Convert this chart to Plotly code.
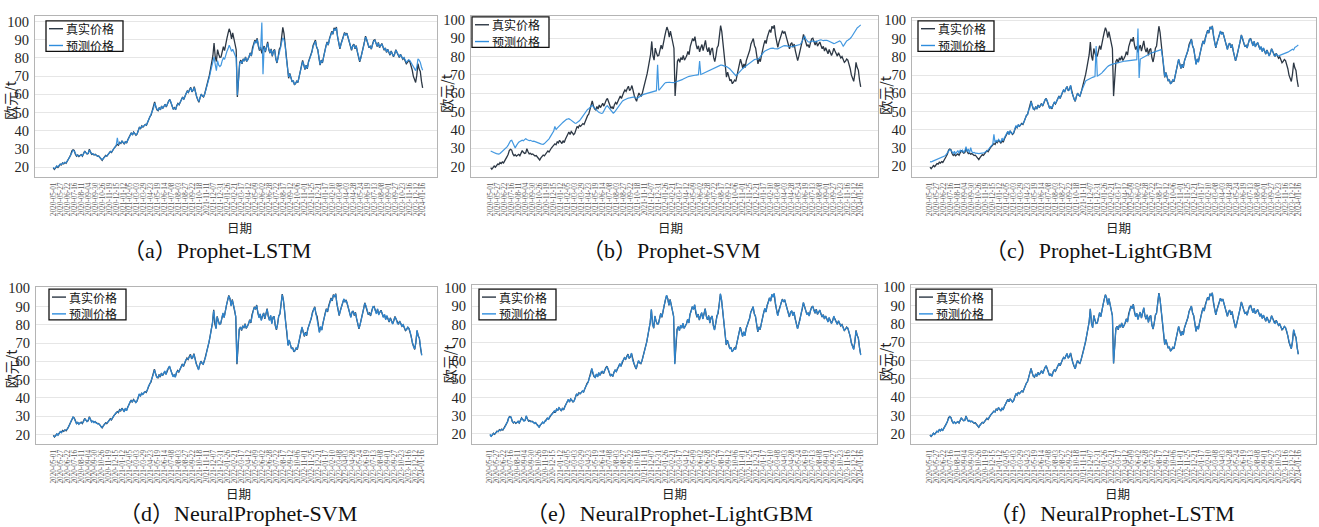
import plotly.graph_objects as go

W, H = 1319, 527

# Tick labels on the trading-day axis (one every 18 trading days, last = final day)
tick_dates = [
    "2020-05-01", "2020-05-27", "2020-06-22", "2020-07-16", "2020-08-11", "2020-09-04",
    "2020-09-30", "2020-10-26", "2020-11-19", "2020-12-15", "2021-01-12", "2021-02-05",
    "2021-03-03", "2021-03-29", "2021-04-23", "2021-05-19", "2021-06-14", "2021-07-08",
    "2021-08-03", "2021-08-27", "2021-09-22", "2021-10-18", "2021-11-11", "2021-12-07",
    "2021-12-31", "2022-01-26", "2022-02-21", "2022-03-17", "2022-04-12", "2022-05-09",
    "2022-06-02", "2022-06-28", "2022-07-22", "2022-08-17", "2022-09-12", "2022-10-06",
    "2022-11-01", "2022-11-25", "2022-12-21", "2023-01-17", "2023-02-10", "2023-03-08",
    "2023-04-03", "2023-04-28", "2023-05-24", "2023-06-19", "2023-07-13", "2023-08-08",
    "2023-09-01", "2023-09-27", "2023-10-23", "2023-11-16", "2023-12-12", "2024-01-16",
]

# Carbon price (EUR/t), sampled every 3 trading days
true_price = [
    19.6, 18.7, 19.5, 20.4, 19.8, 21.0,  21.5, 21.2, 22.3, 21.8, 22.6, 22.1,
    23.0, 24.1, 25.5, 26.8, 28.9, 29.5,  29.1, 27.0, 26.0, 26.6, 25.8, 26.3,
    26.8, 26.0, 27.4, 28.8, 27.9, 27.2,  27.5, 29.8, 28.2, 27.0, 27.3, 26.7,
    27.0, 26.3, 25.9, 26.1, 25.2, 24.6,  23.7, 24.8, 25.6, 26.4, 26.0, 27.0,
    27.4, 28.6, 28.0, 29.5, 30.2, 31.0,  31.8, 32.5, 32.0, 33.6, 33.0, 34.4,
    33.5, 32.6, 34.2, 33.2, 35.0, 36.5,  37.8, 38.9, 37.6, 39.2, 38.4, 37.5,
    38.2, 40.5, 42.0, 41.2, 42.6, 42.0,  42.8, 43.5, 43.0, 44.8, 46.5, 47.8,
    48.6, 50.8, 52.4, 55.8, 53.2, 51.5,  51.0, 52.8, 51.4, 53.6, 52.2, 53.9,
    54.5, 53.0, 55.1, 56.3, 57.2, 55.6,  53.4, 51.8, 52.6, 51.5, 53.8, 55.0,
    54.2, 55.9, 56.8, 58.5, 57.2, 59.6,  60.5, 61.8, 61.0, 62.6, 63.8, 61.4,
    62.3, 64.2, 60.5, 58.8, 57.0, 55.6,  58.2, 60.1, 59.0, 58.5, 60.3, 62.5,
    64.8, 68.0, 70.5, 74.0, 77.5, 81.2,  88.2, 80.5, 78.0, 84.6, 82.0, 80.3,
    80.5, 83.8, 86.2, 84.0, 88.5, 90.6,  93.5, 96.0, 94.2, 90.5, 93.8, 91.0,
    88.0, 84.5, 58.5, 70.2, 77.5, 78.8,  76.8, 79.5, 78.2, 80.6, 78.0, 79.2,
    80.5, 82.8, 81.0, 85.5, 87.2, 89.8,  88.4, 90.8, 86.5, 84.0, 85.8, 82.5,
    84.8, 86.5, 83.2, 85.9, 88.8, 84.5,  82.6, 85.0, 80.8, 83.9, 84.6, 79.5,
    77.2, 80.5, 84.8, 86.0, 90.5, 96.8,  93.5, 88.0, 80.5, 76.0, 68.8, 71.5,
    69.5, 66.8, 67.5, 65.2, 66.0, 67.2,  66.5, 69.8, 72.0, 75.5, 78.6, 76.2,
    73.6, 76.0, 74.0, 77.8, 79.5, 81.8,  83.5, 86.8, 88.0, 89.8, 86.0, 84.5,
    80.2, 76.0, 78.8, 77.2, 80.6, 84.2,  86.5, 88.8, 87.0, 90.5, 92.2, 94.6,
    93.0, 96.5, 95.2, 97.0, 91.5, 88.0,  85.0, 87.8, 89.5, 92.0, 94.0, 92.5,
    93.6, 91.2, 89.0, 86.5, 84.2, 86.8,  87.5, 85.0, 86.8, 83.2, 80.5, 77.8,
    80.2, 82.5, 85.8, 88.6, 92.0, 90.2,  88.0, 85.6, 86.4, 84.8, 87.5, 89.6,
    90.0, 87.8, 86.2, 88.5, 85.6, 86.8,  87.9, 86.0, 84.2, 85.5, 83.0, 84.8,
    83.2, 81.5, 83.8, 82.0, 80.6, 82.2,  84.5, 83.0, 81.0, 80.2, 82.0, 80.5,
    79.2, 80.0, 78.4, 76.8, 77.5, 78.6,  78.0, 76.2, 73.5, 70.0, 68.2, 66.5,
    70.5, 76.8, 74.0, 72.6, 67.2, 63.5,
]

pred_prophet_lstm = [
    19.9, 19.0, 19.7, 20.6, 20.1, 21.2,  21.7, 21.4, 22.2, 22.0, 22.5, 22.3,
    23.1, 24.0, 25.3, 26.6, 28.5, 29.2,  28.9, 27.2, 26.2, 26.5, 26.0, 26.2,
    26.6, 26.2, 27.2, 28.5, 28.0, 27.3,  27.6, 29.4, 28.3, 27.2, 27.2, 26.8,
    26.9, 26.4, 26.0, 26.0, 25.4, 24.8,  24.0, 24.7, 25.5, 26.2, 26.2, 26.9,
    27.5, 28.4, 28.2, 29.3, 30.1, 31.2,  32.0, 36.0, 32.3, 33.4, 33.2, 34.2,
    33.7, 32.9, 34.0, 33.5, 34.8, 36.3,  37.6, 38.7, 37.8, 39.0, 38.5, 37.7,
    38.3, 40.2, 41.8, 41.4, 42.4, 42.2,  42.9, 43.3, 43.2, 44.6, 46.2, 47.6,
    48.5, 50.5, 52.2, 55.2, 53.4, 51.8,  51.2, 52.6, 51.6, 53.4, 52.4, 53.7,
    54.3, 53.3, 54.9, 56.0, 56.9, 55.8,  53.6, 52.0, 52.5, 51.8, 53.6, 54.8,
    54.4, 55.7, 56.7, 58.2, 57.4, 59.3,  60.3, 61.6, 61.2, 62.4, 63.5, 61.7,
    62.2, 63.8, 60.8, 59.0, 57.3, 56.0,  58.0, 59.8, 59.2, 58.7, 60.1, 62.2,
    64.5, 67.2, 69.5, 72.5, 74.8, 77.0,  80.5, 76.5, 73.0, 78.5, 76.0, 75.2,
    76.0, 78.5, 80.0, 79.2, 82.0, 83.5,  85.0, 87.0, 85.5, 83.6, 84.8, 83.2,
    82.5, 80.0, 59.5, 70.5, 77.0, 78.2,  77.0, 79.2, 78.4, 80.3, 78.2, 79.0,
    80.4, 82.5, 81.2, 85.0, 86.8, 89.2,  88.0, 90.2, 86.8, 84.5, 85.2, 99.5,
    71.0, 86.0, 83.6, 85.5, 88.0, 84.8,  82.8, 84.6, 81.2, 83.6, 84.2, 79.8,
    77.5, 80.2, 84.0, 85.5, 88.5, 91.0,  90.0, 87.0, 80.0, 75.8, 69.5, 71.2,
    69.6, 67.0, 67.4, 65.5, 66.2, 67.0,  66.8, 69.5, 71.8, 75.0, 78.0, 76.4,
    73.9, 75.8, 74.3, 77.4, 79.2, 81.4,  83.2, 86.2, 87.6, 89.2, 86.2, 84.7,
    80.5, 76.4, 78.6, 77.5, 80.3, 83.8,  86.2, 88.5, 87.2, 90.1, 91.8, 94.0,
    93.2, 96.0, 95.0, 96.5, 91.8, 88.4,  85.4, 87.5, 89.2, 91.7, 93.6, 92.6,
    93.2, 91.4, 89.2, 86.8, 84.6, 86.5,  87.2, 85.3, 86.5, 83.6, 80.9, 78.3,
    80.0, 82.2, 85.4, 88.2, 91.5, 90.4,  88.2, 85.9, 86.2, 85.1, 87.2, 89.2,
    89.7, 88.0, 86.5, 88.2, 85.9, 86.6,  87.6, 86.2, 84.5, 85.3, 83.3, 84.6,
    83.4, 81.9, 83.5, 82.2, 80.9, 82.0,  84.2, 83.2, 81.3, 80.5, 81.8, 80.8,
    79.5, 80.2, 78.9, 77.6, 78.4, 79.0,  78.6, 77.5, 76.0, 74.8, 73.5, 73.0,
    75.0, 79.5, 78.8, 77.5, 75.0, 73.2,
]

pred_prophet_svm = [
    28.6, 28.2, 28.0, 27.6, 27.4, 27.2,  27.0, 26.9, 27.2, 27.8, 28.3, 28.8,
    29.3, 30.0, 30.8, 31.8, 33.0, 34.2,  34.4, 33.0, 31.0, 30.2, 31.5, 32.8,
    33.4, 33.8, 34.0, 34.5, 34.2, 34.6,  35.3, 34.8, 34.5, 34.2, 34.4, 34.0,
    33.8, 33.9, 33.6, 33.5, 33.2, 33.0,  32.8, 32.5, 32.3, 32.2, 32.6, 33.2,
    33.6, 34.3, 35.2, 36.3, 37.4, 38.6,  39.5, 42.0, 40.2, 41.0, 41.8, 42.5,
    43.0, 43.6, 44.2, 44.8, 45.3, 45.8,  46.0, 46.2, 45.8, 45.2, 44.6, 44.2,
    43.8, 43.6, 44.0, 44.5, 45.0, 45.8,  46.8, 47.8, 48.8, 49.8, 50.6, 51.2,
    51.6, 52.2, 52.8, 53.5, 52.6, 51.8,  51.0, 50.6, 50.0, 49.5, 49.2, 49.0,
    49.2, 50.5, 51.8, 52.8, 53.2, 52.5,  51.6, 50.6, 49.8, 49.2, 49.6, 50.5,
    51.5, 52.6, 53.6, 54.5, 55.2, 55.8,  56.2, 56.6, 56.9, 57.2, 57.4, 57.5,
    57.6, 57.8, 57.9, 58.0, 57.6, 57.3,  57.5, 58.0, 58.4, 58.8, 59.1, 59.4,
    59.6, 59.8, 60.0, 60.2, 60.4, 60.5,  60.7, 60.9, 61.0, 61.2, 61.4, 75.5,
    61.6, 62.3, 63.2, 64.0, 64.8, 65.4,  65.8, 66.0, 66.1, 66.0, 65.9, 65.8,
    65.7, 65.8, 66.0, 66.2, 66.3, 66.4,  66.6, 67.0, 67.4, 67.8, 68.2, 68.5,
    68.8, 69.0, 69.2, 69.4, 69.5, 69.6,  69.7, 69.8, 69.9, 70.0, 70.1, 77.5,
    70.3, 70.5, 70.8, 71.0, 71.3, 71.6,  71.8, 72.2, 72.6, 72.9, 73.2, 73.5,
    73.8, 74.2, 74.6, 74.9, 75.1, 75.3,  75.3, 75.2, 75.0, 74.8, 74.5, 74.2,
    73.8, 73.2, 72.5, 71.8, 71.0, 70.2,  69.6, 70.0, 70.8, 71.6, 72.3, 73.0,
    73.5, 74.0, 74.5, 75.0, 75.5, 76.0,  76.5, 77.0, 77.5, 77.9, 78.3, 78.5,
    78.5, 78.6, 79.0, 80.0, 81.0, 82.0,  82.5, 83.0, 83.4, 83.8, 84.0, 84.2,
    84.4, 84.6, 84.5, 84.3, 84.2, 84.1,  84.2, 84.5, 84.9, 85.3, 85.6, 85.8,
    85.9, 86.0, 85.8, 85.5, 85.3, 85.2,  85.3, 85.5, 85.7, 85.8, 86.0, 86.0,
    86.2, 86.5, 87.2, 88.5, 90.5, 91.2,  89.5, 88.5, 88.0, 87.8, 88.0, 88.2,
    88.5, 88.2, 87.9, 88.0, 88.4, 88.8,  89.0, 89.1, 88.8, 88.6, 88.8, 89.0,
    88.8, 88.6, 88.2, 87.8, 87.4, 87.0,  87.0, 87.2, 87.6, 88.0, 88.3, 88.5,
    88.0, 86.8, 85.6, 86.5, 87.8, 88.5,  88.8, 89.2, 89.8, 90.5, 91.5, 92.8,
    94.0, 95.0, 95.6, 96.0, 96.6, 97.2,
]

pred_prophet_lgbm = [
    22.6, 22.4, 22.7, 23.0, 23.1, 23.4,  23.6, 23.8, 24.2, 24.5, 24.8, 25.2,
    25.5, 25.8, 26.5, 27.5, 28.8, 29.2,  28.8, 27.5, 27.0, 28.2, 26.9, 27.8,
    28.5, 27.2, 29.0, 28.0, 28.9, 27.6,  28.4, 30.8, 28.0, 29.5, 27.2, 30.2,
    28.0, 27.4, 27.6, 27.2, 27.3, 27.1,  27.0, 27.0, 27.1, 27.2, 27.4, 27.6,
    27.9, 28.5, 29.0, 30.0, 30.8, 31.5,  32.0, 37.5, 33.0, 34.2, 33.5, 34.8,
    34.0, 33.2, 35.5, 34.0, 35.6, 37.0,  37.5, 39.2, 37.3, 39.5, 38.1, 37.8,
    38.6, 40.2, 42.4, 41.0, 42.9, 41.8,  43.1, 43.2, 43.4, 44.5, 46.2, 48.1,
    48.3, 51.1, 52.0, 55.5, 53.5, 51.2,  51.3, 52.5, 51.7, 53.3, 52.5, 53.6,
    54.2, 53.3, 54.8, 56.6, 56.9, 55.9,  53.7, 51.5, 52.9, 51.8, 53.5, 55.3,
    54.5, 55.6, 57.1, 58.2, 57.5, 59.3,  60.2, 62.1, 60.7, 62.9, 63.5, 61.7,
    62.0, 64.5, 60.2, 59.1, 56.7, 55.9,  58.5, 59.8, 59.3, 58.2, 60.6, 62.2,
    64.5, 66.2, 66.8, 67.2, 67.6, 68.0,  68.3, 68.6, 68.8, 69.0, 69.2, 86.0,
    69.5, 69.8, 70.2, 70.6, 71.2, 72.0,  72.8, 73.5, 74.2, 74.8, 75.2, 75.6,
    75.8, 76.0, 76.2, 76.4, 76.6, 76.8,  77.0, 77.2, 77.3, 77.4, 77.5, 77.6,
    77.7, 77.8, 77.8, 77.9, 78.0, 78.0,  78.1, 78.2, 78.3, 78.4, 78.5, 95.5,
    68.5, 78.8, 79.2, 79.6, 80.0, 80.4,  80.8, 81.2, 81.5, 81.8, 82.0, 82.2,
    82.4, 82.6, 82.8, 83.0, 83.2, 83.4,  83.5, 84.0, 80.5, 76.2, 69.0, 71.3,
    69.3, 67.0, 67.3, 65.4, 65.8, 67.4,  66.7, 69.6, 72.2, 75.3, 78.8, 76.0,
    73.8, 75.8, 74.2, 77.6, 79.7, 81.6,  83.7, 86.6, 88.2, 89.6, 86.2, 84.3,
    80.4, 75.8, 79.0, 77.0, 80.8, 84.0,  86.7, 88.6, 87.2, 90.3, 92.4, 94.4,
    93.2, 96.3, 95.4, 96.8, 91.7, 87.8,  85.2, 87.6, 89.7, 91.8, 94.2, 92.3,
    93.4, 91.4, 88.8, 86.7, 84.0, 87.0,  87.3, 85.2, 86.6, 83.4, 80.3, 78.0,
    80.0, 82.7, 85.6, 88.8, 91.8, 90.4,  87.8, 85.8, 86.2, 85.0, 87.3, 89.8,
    89.8, 88.0, 86.0, 88.7, 85.4, 87.0,  87.7, 86.2, 84.0, 85.7, 82.8, 85.0,
    83.0, 81.7, 83.6, 82.2, 80.4, 82.4,  84.3, 83.2, 80.8, 80.4, 81.8, 80.7,
    80.5, 80.8, 81.0, 81.3, 81.5, 81.8,  82.0, 82.3, 82.6, 83.0, 83.3, 83.7,
    84.2, 83.8, 85.2, 85.5, 86.0, 86.5,
]

pred_np_svm = [
    19.3, 18.9, 19.2, 20.6, 19.6, 20.8,  21.7, 21.0, 22.0, 22.1, 22.3, 22.4,
    22.8, 24.3, 25.2, 27.0, 28.6, 29.7,  28.8, 27.3, 25.8, 26.9, 25.6, 26.5,
    26.6, 26.3, 27.1, 28.5, 28.1, 27.0,  27.8, 29.5, 28.4, 26.8, 27.5, 26.5,
    27.2, 26.1, 26.1, 25.8, 25.4, 24.3,  23.9, 24.5, 25.8, 26.1, 26.3, 26.8,
    27.6, 28.3, 28.2, 29.2, 30.5, 30.8,  32.0, 32.2, 32.3, 33.3, 33.2, 34.1,
    33.8, 32.3, 34.5, 33.0, 35.3, 36.2,  38.0, 38.6, 37.9, 38.9, 38.7, 37.2,
    38.5, 40.2, 42.3, 40.9, 42.8, 41.7,  43.1, 43.2, 43.3, 44.5, 46.8, 47.5,
    48.9, 50.5, 52.7, 55.4, 53.5, 51.2,  51.3, 52.5, 51.7, 53.3, 52.5, 53.6,
    54.8, 52.7, 55.4, 56.0, 57.5, 55.3,  53.7, 51.5, 52.9, 51.2, 54.1, 54.7,
    54.5, 55.6, 57.1, 58.2, 57.5, 59.3,  60.8, 61.5, 61.3, 62.3, 63.5, 61.7,
    62.0, 64.0, 60.8, 58.5, 57.3, 55.3,  58.5, 59.8, 59.3, 58.2, 60.6, 62.2,
    65.1, 67.7, 70.8, 73.7, 77.8, 80.9,  87.8, 80.8, 77.7, 84.3, 82.3, 80.0,
    80.8, 83.5, 86.5, 83.7, 88.2, 90.9,  93.2, 95.7, 94.5, 90.2, 93.5, 91.3,
    88.3, 84.2, 58.8, 69.9, 77.8, 78.5,  77.1, 79.2, 78.5, 80.3, 78.3, 78.9,
    80.8, 82.5, 81.3, 85.2, 87.5, 89.5,  88.7, 90.5, 86.8, 83.7, 86.1, 82.2,
    85.1, 86.2, 83.5, 85.6, 88.5, 84.8,  82.3, 85.3, 80.5, 84.2, 84.3, 79.8,
    77.5, 80.2, 85.1, 85.7, 90.8, 96.5,  93.2, 88.3, 80.2, 76.3, 68.5, 71.8,
    69.2, 67.1, 67.2, 65.5, 65.7, 67.5,  66.8, 69.5, 72.3, 75.2, 78.9, 75.9,
    73.9, 75.7, 74.3, 77.5, 79.8, 81.5,  83.8, 86.5, 88.3, 89.5, 86.3, 84.2,
    80.5, 75.7, 79.1, 76.9, 80.9, 83.9,  86.8, 88.5, 87.3, 90.2, 92.5, 94.3,
    93.3, 96.2, 95.5, 96.7, 91.8, 87.7,  85.3, 87.5, 89.8, 91.7, 94.3, 92.2,
    93.3, 91.5, 88.7, 86.8, 83.9, 87.1,  87.2, 85.3, 86.5, 83.5, 80.2, 78.1,
    79.9, 82.8, 85.5, 88.9, 91.7, 90.5,  87.7, 85.9, 86.1, 85.1, 87.2, 89.9,
    89.7, 88.1, 85.9, 88.8, 85.3, 87.1,  87.6, 86.3, 83.9, 85.8, 82.7, 85.1,
    82.9, 81.8, 83.5, 82.3, 80.3, 82.5,  84.2, 83.3, 80.7, 80.5, 81.7, 80.8,
    78.9, 80.3, 78.1, 77.1, 77.2, 78.9,  77.7, 76.5, 73.2, 70.3, 67.9, 66.8,
    70.2, 77.1, 73.7, 72.9, 66.9, 63.2,
]

pred_np_lgbm = [
    19.8, 18.5, 19.7, 20.2, 20.0, 20.8,  21.3, 21.4, 22.1, 22.0, 22.4, 22.3,
    23.2, 23.9, 25.7, 26.6, 29.1, 29.3,  29.3, 26.8, 26.2, 26.4, 26.0, 26.1,
    27.0, 25.8, 27.6, 28.6, 28.1, 27.0,  27.3, 30.0, 28.0, 27.2, 27.1, 26.9,
    26.8, 26.5, 25.7, 26.3, 25.0, 24.8,  23.5, 25.0, 25.4, 26.6, 25.8, 27.2,
    27.2, 28.8, 27.8, 29.7, 30.0, 31.2,  31.6, 32.7, 31.8, 33.8, 32.8, 34.6,
    33.3, 32.8, 34.0, 33.4, 34.8, 36.7,  37.6, 39.1, 37.4, 39.4, 38.2, 37.7,
    38.0, 40.7, 41.8, 41.4, 42.4, 42.2,  42.6, 43.7, 42.8, 45.0, 46.3, 48.0,
    48.4, 51.0, 52.2, 56.0, 53.0, 51.7,  50.8, 53.0, 51.2, 53.8, 52.0, 54.1,
    54.3, 53.2, 54.9, 56.5, 57.0, 55.8,  53.2, 52.0, 52.4, 51.7, 53.6, 55.2,
    54.0, 56.1, 56.6, 58.7, 57.0, 59.8,  60.3, 62.0, 60.8, 62.8, 63.6, 61.6,
    62.5, 64.4, 60.3, 59.0, 56.8, 55.8,  58.0, 60.3, 58.8, 58.7, 60.1, 62.7,
    64.6, 68.2, 70.3, 74.2, 77.3, 81.4,  88.4, 80.3, 78.2, 84.8, 81.8, 80.5,
    80.3, 84.0, 86.0, 84.2, 88.3, 90.8,  93.7, 96.2, 94.0, 90.7, 93.6, 91.2,
    87.8, 84.7, 58.3, 70.4, 77.3, 79.0,  76.6, 79.7, 78.0, 80.8, 77.8, 79.4,
    80.3, 83.0, 80.8, 85.7, 87.0, 90.0,  88.2, 91.0, 86.3, 84.2, 85.6, 82.7,
    84.6, 86.7, 83.0, 86.1, 88.6, 84.7,  82.8, 84.8, 81.0, 83.7, 84.8, 79.3,
    77.0, 80.7, 84.6, 86.2, 90.3, 97.0,  93.7, 87.8, 80.7, 75.8, 69.0, 71.3,
    69.7, 66.6, 67.7, 65.0, 66.2, 67.0,  66.3, 70.0, 71.8, 75.7, 78.4, 76.4,
    73.4, 76.2, 73.8, 78.0, 79.3, 82.0,  83.3, 87.0, 87.8, 90.0, 85.8, 84.7,
    80.0, 76.2, 78.6, 77.4, 80.4, 84.4,  86.3, 89.0, 86.8, 90.7, 92.0, 94.8,
    92.8, 96.7, 95.0, 97.2, 91.3, 88.2,  84.8, 88.0, 89.3, 92.2, 93.8, 92.7,
    93.8, 91.0, 89.2, 86.3, 84.4, 86.6,  87.7, 84.8, 87.0, 83.0, 80.7, 77.6,
    80.4, 82.3, 86.0, 88.4, 92.2, 90.0,  88.2, 85.4, 86.6, 84.6, 87.7, 89.4,
    90.2, 87.6, 86.4, 88.3, 85.8, 86.6,  88.1, 85.8, 84.4, 85.3, 83.2, 84.6,
    83.4, 81.3, 84.0, 81.8, 80.8, 82.0,  84.7, 82.8, 81.2, 80.0, 82.2, 80.3,
    79.4, 79.8, 78.6, 76.6, 77.7, 78.4,  78.2, 76.0, 73.7, 69.8, 68.4, 66.3,
    70.7, 76.6, 74.2, 72.4, 67.4, 63.3,
]

pred_np_lstm = [
    19.4, 18.8, 19.3, 20.5, 19.7, 21.1,  21.6, 21.1, 22.4, 21.7, 22.7, 22.0,
    22.9, 24.2, 25.4, 26.9, 28.8, 29.6,  29.0, 27.1, 25.9, 26.7, 25.7, 26.4,
    26.7, 26.1, 27.3, 28.9, 27.8, 27.3,  27.4, 29.7, 28.3, 26.9, 27.4, 26.6,
    27.1, 26.2, 26.0, 26.0, 25.3, 24.5,  23.8, 24.7, 25.7, 26.3, 26.1, 26.9,
    27.5, 28.5, 28.1, 29.4, 30.3, 30.9,  31.9, 32.4, 32.1, 33.5, 33.1, 34.3,
    33.6, 32.5, 34.3, 33.1, 35.1, 36.4,  37.9, 38.8, 37.7, 39.1, 38.5, 37.4,
    38.3, 40.4, 42.1, 41.1, 42.7, 41.9,  42.9, 43.4, 43.1, 44.7, 46.6, 47.7,
    48.7, 50.7, 52.5, 55.7, 53.3, 51.4,  51.1, 52.7, 51.5, 53.5, 52.3, 53.8,
    54.6, 52.9, 55.2, 56.2, 57.3, 55.5,  53.5, 51.7, 52.7, 51.4, 53.9, 54.9,
    54.3, 55.8, 56.9, 58.4, 57.3, 59.5,  60.6, 61.7, 61.1, 62.5, 63.9, 61.3,
    62.4, 64.1, 60.6, 58.7, 57.1, 55.5,  58.3, 60.0, 59.1, 58.4, 60.4, 62.4,
    64.9, 67.9, 70.6, 73.9, 77.6, 81.1,  88.1, 80.6, 77.9, 84.5, 82.1, 80.2,
    80.6, 83.7, 86.3, 83.9, 88.6, 90.5,  93.4, 95.9, 94.3, 90.4, 93.9, 90.9,
    88.1, 84.4, 58.6, 70.1, 77.6, 78.7,  76.9, 79.4, 78.3, 80.5, 78.1, 79.1,
    80.6, 82.7, 81.1, 85.4, 87.3, 89.7,  88.5, 90.7, 86.6, 83.9, 85.9, 82.4,
    84.9, 86.4, 83.3, 85.8, 88.9, 84.4,  82.7, 84.9, 80.9, 83.8, 84.7, 79.4,
    77.3, 80.4, 84.9, 85.9, 90.6, 96.7,  93.4, 88.1, 80.4, 76.1, 68.7, 71.6,
    69.4, 66.9, 67.4, 65.3, 65.9, 67.3,  66.6, 69.7, 72.1, 75.4, 78.7, 76.1,
    73.7, 75.9, 74.1, 77.7, 79.6, 81.7,  83.6, 86.7, 88.1, 89.7, 86.1, 84.4,
    80.3, 75.9, 78.9, 77.1, 80.7, 84.1,  86.6, 88.7, 87.1, 90.4, 92.3, 94.5,
    93.1, 96.4, 95.3, 96.9, 91.6, 87.9,  85.1, 87.7, 89.6, 91.9, 94.1, 92.4,
    93.5, 91.3, 88.9, 86.6, 84.1, 86.9,  87.4, 85.1, 86.7, 83.3, 80.4, 77.9,
    80.1, 82.6, 85.7, 88.7, 91.9, 90.3,  87.9, 85.7, 86.3, 84.9, 87.4, 89.7,
    89.9, 87.9, 86.1, 88.6, 85.5, 86.9,  87.8, 86.1, 84.1, 85.6, 82.9, 84.9,
    83.1, 81.6, 83.7, 82.1, 80.5, 82.3,  84.4, 83.1, 80.9, 80.3, 81.9, 80.6,
    79.1, 80.1, 78.3, 76.9, 77.4, 78.7,  77.9, 76.3, 73.4, 70.1, 68.1, 66.6,
    70.4, 76.9, 73.9, 72.7, 67.1, 63.4,
]

captions = [
    "（a）Prophet-LSTM", "（b）Prophet-SVM", "（c）Prophet-LightGBM",
    "（d）NeuralProphet-SVM", "（e）NeuralProphet-LightGBM", "（f）NeuralProphet-LSTM",
]
predictions = [pred_prophet_lstm, pred_prophet_svm, pred_prophet_lgbm,
               pred_np_svm, pred_np_lgbm, pred_np_lstm]
legend_names = ["真实价格", "预测价格"]
y_ticks = [20, 30, 40, 50, 60, 70, 80, 90, 100]

# trading-day index of each sample
STEP = 3
x_idx = [i * STEP for i in range(len(true_price))]
tick_pos = [k * 18 for k in range(len(tick_dates) - 1)] + [x_idx[-1]]

TRUE_COLOR = "#2c3744"
PRED_COLOR = "#2e8ddd"
SERIF = "Liberation Serif, Noto Sans CJK SC, serif"
CJK = "Noto Sans CJK SC, Liberation Serif, sans-serif"

# panel geometry in pixels: plot box (left, right, top, bottom), y range, x range,
# caption centre, x-title centre, y-title centre, legend box (left, right, top)
panels = [
    dict(box=(35, 437, 9, 172), yr=(14.7, 103.1), xr=(-47, 988), cap=(217, 247),
         xt=(239, 223), yt=(10, 95), leg=(46, 123, 14)),
    dict(box=(471, 878, 9, 172), yr=(14.6, 102.1), xr=(-50.6, 995.5), cap=(671, 247),
         xt=(671, 223), yt=(446, 88), leg=(472, 549, 10)),
    dict(box=(912, 1316, 11, 172), yr=(14.3, 101.4), xr=(-46.5, 996.7), cap=(1098, 247),
         xt=(1118, 223), yt=(885, 90), leg=(918, 994, 14)),
    dict(box=(36, 437, 284, 443), yr=(14.8, 100.5), xr=(-44.7, 990.5), cap=(238, 513),
         xt=(238, 493), yt=(11, 367), leg=(49, 126, 286)),
    dict(box=(472, 877, 282, 443), yr=(14.4, 101.6), xr=(-46.2, 992.8), cap=(669, 513),
         xt=(675, 493), yt=(449, 362), leg=(479, 556, 286)),
    dict(box=(911, 1316, 282, 443), yr=(14.5, 101.1), xr=(-49, 996.7), cap=(1112, 513),
         xt=(1117, 493), yt=(885, 360), leg=(916, 992, 286)),
]
LEG_H = 31          # legend box height (px)
LEG_ROWS = (7, 24)  # row centres below the legend top (px)


def px(x):
    return x / W


def py(y):
    return 1 - y / H


fig = go.Figure()
layout = dict(
    width=W, height=H, margin=dict(l=0, r=0, t=0, b=0),
    paper_bgcolor="white", plot_bgcolor="white", showlegend=False,
    annotations=[], shapes=[],
)

for i, (p, pred, cap) in enumerate(zip(panels, predictions, captions)):
    n = "" if i == 0 else str(i + 1)
    xa, ya = "x" + n, "y" + n
    l, r, t, b = p["box"]

    fig.add_trace(go.Scatter(x=x_idx, y=true_price, mode="lines", name=legend_names[0],
                             line=dict(color=TRUE_COLOR, width=1.3), xaxis=xa, yaxis=ya))
    fig.add_trace(go.Scatter(x=x_idx, y=pred, mode="lines", name=legend_names[1],
                             line=dict(color=PRED_COLOR, width=1.2), opacity=0.9,
                             xaxis=xa, yaxis=ya))

    layout["xaxis" + n] = dict(
        domain=[px(l), px(r)], anchor=ya, range=list(p["xr"]),
        tickmode="array", tickvals=tick_pos, ticktext=tick_dates, tickangle=-90,
        tickfont=dict(family=SERIF, size=7.2, color="#555555"),
        showgrid=False, zeroline=False, showline=True, mirror=True,
        linecolor="#b4b4b4", linewidth=1, ticks="", ticklabelstandoff=2,
    )
    layout["yaxis" + n] = dict(
        domain=[py(b), py(t)], anchor=xa, range=list(p["yr"]),
        tickmode="array", tickvals=y_ticks,
        tickfont=dict(family=SERIF, size=14.5, color="#262626"),
        showgrid=True, gridcolor="#e6e6e6", gridwidth=1, zeroline=False,
        showline=True, mirror=True, linecolor="#b4b4b4", linewidth=1,
        ticks="", ticklabelstandoff=2,
    )

    ann = layout["annotations"]
    ann.append(dict(text=cap, x=px(p["cap"][0]), y=py(p["cap"][1]), xref="paper", yref="paper",
                    showarrow=False, xanchor="center", yanchor="middle",
                    font=dict(family=SERIF, size=22, color="#111111")))
    ann.append(dict(text="日期", x=px(p["xt"][0]), y=py(p["xt"][1]), xref="paper", yref="paper",
                    showarrow=False, xanchor="center", yanchor="middle",
                    font=dict(family=CJK, size=12.5, color="#222222")))
    ann.append(dict(text="欧元/t", x=px(p["yt"][0]), y=py(p["yt"][1]), xref="paper", yref="paper",
                    showarrow=False, xanchor="center", yanchor="middle", textangle=-90,
                    font=dict(family=CJK, size=14, color="#222222")))

    # legend box: a short line sample and a label per series
    gl, gr, gt = p["leg"]
    layout["shapes"].append(dict(type="rect", xref="paper", yref="paper",
                                 x0=px(gl), x1=px(gr), y0=py(gt + LEG_H), y1=py(gt),
                                 line=dict(color="#111111", width=1.3), fillcolor="white"))
    for name, color, dy in zip(legend_names, [TRUE_COLOR, PRED_COLOR], LEG_ROWS):
        yy = gt + dy + 1
        layout["shapes"].append(dict(type="line", xref="paper", yref="paper",
                                     x0=px(gl + 3), x1=px(gl + 17), y0=py(yy), y1=py(yy),
                                     line=dict(color=color, width=1.4)))
        ann.append(dict(text=name, x=px(gl + 19), y=py(yy), xref="paper", yref="paper",
                        showarrow=False, xanchor="left", yanchor="middle", borderpad=0,
                        font=dict(family=CJK, size=12, color="#111111")))

fig.update_layout(**layout)
fig.write_html("out.html")
